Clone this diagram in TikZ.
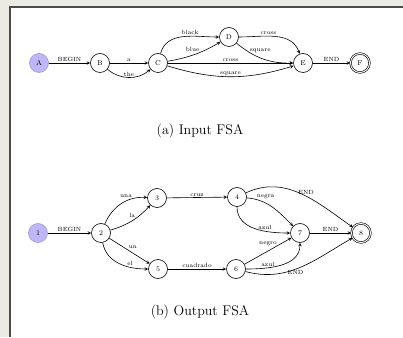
\documentclass[tikz,border=0pt]{standalone}
\usetikzlibrary{arrows}
\definecolor{fsaback}{RGB}{236,235,227}
\definecolor{fsastart}{RGB}{190,182,246}
\tikzset{
  st/.style={circle, draw, line width=0.6pt, minimum size=19pt, inner sep=0pt, font=\fontsize{7}{8}\selectfont},
  ststart/.style={st, fill=fsastart, draw=fsastart!85!black},
  stfinal/.style={st, double, double distance=1pt},
  tr/.style={->, >=stealth, line width=0.6pt},
  lbl/.style={font=\fontsize{6}{7}\selectfont, inner sep=1pt},
  capt/.style={font=\fontsize{14}{16}\selectfont}
}
\begin{document}
\begin{tikzpicture}[x=1pt, y=1pt]
    % 背景とパネル
    \useasboundingbox (0,0) rectangle (403,337);
    \fill[fsaback] (0,0) rectangle (403,337);
    \fill[white] (10,0) rectangle (403,330);
    \draw[line width=1.2pt, black!70] (10,0) -- (10,330) -- (403,330);

    % 入力FSAのノード
    \node[ststart] (A) at (39, 274) {A};
    \node[st] (B) at (100, 274) {B};
    \node[st] (C) at (158, 274) {C};
    \node[st] (D) at (229, 300) {D};
    \node[st] (E) at (303, 274) {E};
    \node[stfinal] (F) at (360, 274) {F};

    % 入力FSAのエッジ
    \draw[tr] (A) -- node[lbl, above] {BEGIN} (B);
    \draw[tr] (B) -- node[lbl, above] {a} (C);
    \draw[tr] (B) to[out=-40, in=-140] node[lbl, above] {the} (C);
    \draw[tr] (C) to[out=75, in=180] node[lbl, pos=0.6, above] {black} (D);
    \draw[tr] (C) to[bend right=10] node[lbl, pos=0.45, above=2pt] {blue} (D);
    \draw[tr] (D) to[out=0, in=110] node[lbl, pos=0.4, above] {cross} (E);
    \draw[tr] (D) to[bend right=20] node[lbl, pos=0.45, above=4pt] {square} (E);
    \draw[tr] (C) -- node[lbl, above] {cross} (E);
    \draw[tr] (C) to[bend right=17] node[lbl, above] {square} (E);
    \draw[tr] (E) -- node[lbl, above] {END} (F);

    \node[capt] (capa) at (200, 206) {(a) Input FSA};

    % 出力FSAのノード
    \node[ststart] (n1) at (38, 104) {1};
    \node[st] (n2) at (101, 104) {2};
    \node[st] (n3) at (157, 139) {3};
    \node[st] (n4) at (237, 140) {4};
    \node[st] (n5) at (158, 68) {5};
    \node[st] (n6) at (236, 68) {6};
    \node[st] (n7) at (300, 104) {7};
    \node[stfinal] (n8) at (361, 104) {8};

    % 出力FSAのエッジ
    \draw[tr] (n1) -- node[lbl, above] {BEGIN} (n2);
    \draw[tr] (n2) to[bend left=35] node[lbl, pos=0.6, above=2pt] {una} (n3);
    \draw[tr] (n2) to[bend right=15] node[lbl, above=2pt] {la} (n3);
    \draw[tr] (n2) -- node[lbl, pos=0.45, above right] {un} (n5);
    \draw[tr] (n2) to[out=-80, in=180] node[lbl, pos=0.7, above] {el} (n5);
    \draw[tr] (n3) -- node[lbl, above] {cruz} (n4);
    \draw[tr] (n5) -- node[lbl, above] {cuadrado} (n6);
    \draw[tr] (n4) to[out=-5, in=135] node[lbl, pos=0.35, above=3pt] {negra} (n7);
    \draw[tr] (n4) to[out=-90, in=180] node[lbl, pos=0.65, above] {azul} (n7);
    \draw[tr] (n4) to[out=25, in=145] node[lbl, pos=0.55, above] {END} (n8);
    \draw[tr] (n6) -- node[lbl, above=4pt] {negro} (n7);
    \draw[tr] (n6) to[out=0, in=-90] node[lbl, pos=0.3, above] {azul} (n7);
    \draw[tr] (n6) to[out=-15, in=-150] node[lbl, pos=0.45, below] {END} (n8);
    \draw[tr] (n7) -- node[lbl, above] {END} (n8);

    \node[capt] (capb) at (200, 25) {(b) Output FSA};
\end{tikzpicture}
\end{document}
